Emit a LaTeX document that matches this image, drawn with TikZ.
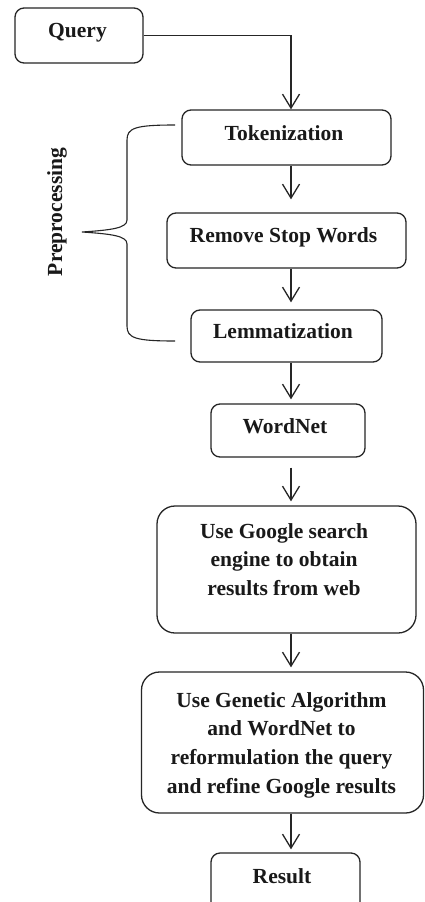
\documentclass[tikz,border=0pt]{standalone}
\usepackage{fontspec}
\setmainfont{Liberation Serif}
\usetikzlibrary{arrows.meta}
\begin{document}
\begin{tikzpicture}[x=1pt,y=-1pt,
  boxshape/.style={draw=black!85, line width=1.3pt, inner sep=0pt},
  smallbox/.style={boxshape, rounded corners=9pt},
  bigbox/.style={boxshape, rounded corners=18pt},
  txt/.style={inner sep=0pt, align=center, font=\fontsize{21.5}{28.7}\selectfont\bfseries, text=black!90},
  conn/.style={draw=black!85, line width=1.3pt},
  arr/.style={conn, -{Straight Barb[length=14pt,width=17pt,line width=1.3pt]}}]
\clip (0,0) rectangle (425,902);
\useasboundingbox (0,0) rectangle (425,902);
\fill[white] (0,0) rectangle (425,902);

% boxes
\node[smallbox, minimum width=128pt, minimum height=55pt] (query) at (79,35.5) {};
\node[smallbox, minimum width=209pt, minimum height=55pt] (tok) at (286.5,137.5) {};
\node[smallbox, minimum width=239pt, minimum height=55pt] (rsw) at (286.5,240.5) {};
\node[smallbox, minimum width=191pt, minimum height=52pt] (lem) at (286.5,336) {};
\node[smallbox, minimum width=154pt, minimum height=53pt] (wn) at (288,430.5) {};
\node[bigbox, minimum width=259pt, minimum height=127pt] (google) at (286.5,569.5) {};
\node[bigbox, minimum width=282pt, minimum height=141pt] (ga) at (282.5,742.5) {};
\node[smallbox, minimum width=149pt, minimum height=64pt] (res) at (285.5,885) {};

% texts
\node[txt, anchor=base] (queryt) at (77.5,37) {Query};
\node[txt, anchor=base] (tokt) at (284,140) {Tokenization};
\node[txt, anchor=base] (rswt) at (283.5,242) {Remove Stop Words};
\node[txt, anchor=base] (lemt) at (283,338) {Lemmatization};
\node[txt, anchor=base] (wnt) at (285,433) {WordNet};
\node[txt, anchor=north] (googlet) at (284,523) {Use Google search\\engine to obtain\\results from web};
\node[txt, anchor=north] (gat) at (281.5,692) {Use Genetic Algorithm\\and WordNet to\\reformulation the query\\and refine Google results};
\node[txt, anchor=base] (rest) at (282,883) {Result};
\node[txt, rotate=90] (pre) at (57,212) {Preprocessing};

% connectors
\coordinate (ax) at (291,0);
\draw[arr] (query.east) -- (query.east -| ax) -- (tok.north -| ax);
\draw[arr, shorten >=13pt] (tok.south -| ax) -- (rsw.north -| ax);
\draw[arr, shorten >=7pt] (rsw.south -| ax) -- (lem.north -| ax);
\draw[arr, shorten >=4pt] (lem.south -| ax) -- (wn.north -| ax);
\draw[arr, shorten <=10pt, shorten >=4pt] (wn.south -| ax) -- (google.north -| ax);
\draw[arr, shorten >=4pt] (google.south -| ax) -- (ga.north -| ax);
\draw[arr, shorten >=3pt] (ga.south -| ax) -- (res.north -| ax);

% brace
\coordinate (bt) at (175,125);
\coordinate (bb) at (175,341);
\coordinate (bc) at (82,232);
\draw[conn, line width=1.1pt] (bt) .. controls (135,125) and (127,128) .. (127,140)
  -- (127,220) .. controls (127,228) and (112,230) .. (bc)
  .. controls (112,234) and (127,236) .. (127,244)
  -- (127,326) .. controls (127,338) and (135,341) .. (bb);
\end{tikzpicture}
\end{document}
